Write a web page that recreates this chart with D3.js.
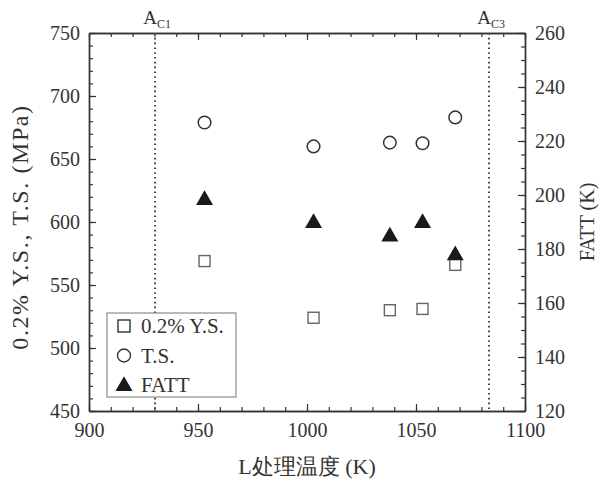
<!DOCTYPE html>
<html>
<head>
<meta charset="utf-8">
<script src="https://cdn.jsdelivr.net/npm/d3@7"></script>
<style>
  body { margin: 0; background: #fff; }
  svg { display: block; font-family: "Liberation Serif", "Times New Roman", serif; }
</style>
</head>
<body>
<svg id="chart"></svg>
<script>
// data
const temps = [953, 1003, 1038, 1053, 1068]
const yieldStrength = [569, 524, 530, 531, 566]
const tensileStrength = [679, 660, 663, 662.5, 683]
const fatt = [198.5, 190, 185, 190, 178]
const transitions = [{ label: 'A', sub: 'C1', value: 930.3 }, { label: 'A', sub: 'C3', value: 1083.5 }]
const legendItems = ['0.2% Y.S.', 'T.S.', 'FATT']
const xTicks = [900, 950, 1000, 1050, 1100]
const yLeftTicks = [450, 500, 550, 600, 650, 700, 750]
const yRightTicks = [120, 140, 160, 180, 200, 220, 240, 260]

const W = 601, H = 484
const margin = { top: 33, right: 76, bottom: 73, left: 89 }
const width = W - margin.left - margin.right,
	height = H - margin.top - margin.bottom

const ink = '#333'
const serif = '"Liberation Serif", "Times New Roman", serif'

const svg = d3.select('#chart').attr('width', W).attr('height', H)
const g = svg.append('g').attr('transform', `translate(${margin.left},${margin.top})`)

const x = d3.scaleLinear().domain([900, 1100]).range([0, width])
const yL = d3.scaleLinear().domain([450, 750]).range([height, 0])
const yR = d3.scaleLinear().domain([120, 260]).range([height, 0])

const fs = 20
const fmt = d3.format('d')

// minor ticks first (no labels), then major ones
function addAxis(axis, transform) {
	const a = g.append('g').attr('transform', transform).call(axis)
	a.attr('font-family', serif)
	a.select('.domain').attr('stroke', ink).attr('stroke-width', 1.4)
	a.selectAll('.tick line').attr('stroke', ink).attr('stroke-width', 1.2)
	a.selectAll('text').attr('fill', ink).style('font-size', fs + 'px').style('font-family', serif)
	return a
}

const xMinor = d3.range(900, 1101, 10)
const yLMinor = d3.range(450, 751, 10)
const yRMinor = d3.range(120, 261, 5)

addAxis(d3.axisBottom(x).tickValues(xMinor).tickSize(-4).tickSizeOuter(0).tickFormat(''), `translate(0,${height})`)
addAxis(d3.axisTop(x).tickValues(xMinor).tickSize(-4).tickSizeOuter(0).tickFormat(''), 'translate(0,0)')
addAxis(d3.axisLeft(yL).tickValues(yLMinor).tickSize(-4).tickSizeOuter(0).tickFormat(''), 'translate(0,0)')
addAxis(d3.axisRight(yR).tickValues(yRMinor).tickSize(-4).tickSizeOuter(0).tickFormat(''), `translate(${width},0)`)

addAxis(d3.axisBottom(x).tickValues(xTicks).tickFormat(fmt).tickSize(-7).tickSizeOuter(0).tickPadding(12), `translate(0,${height})`)
addAxis(d3.axisTop(x).tickValues(xTicks).tickSize(-7).tickSizeOuter(0).tickFormat(''), 'translate(0,0)')
addAxis(d3.axisLeft(yL).tickValues(yLeftTicks).tickFormat(fmt).tickSize(-7).tickSizeOuter(0).tickPadding(9), 'translate(0,0)')
addAxis(d3.axisRight(yR).tickValues(yRightTicks).tickFormat(fmt).tickSize(-7).tickSizeOuter(0).tickPadding(10), `translate(${width},0)`)

// transformation temperatures
transitions.forEach((t) => {
	g.append('line')
		.attr('x1', x(t.value)).attr('x2', x(t.value))
		.attr('y1', 0).attr('y2', height)
		.attr('stroke', '#444')
		.attr('stroke-width', 2)
		.attr('stroke-dasharray', '1.6,3.2')
	const lab = g.append('text')
		.attr('x', x(t.value) + 2)
		.attr('y', -9)
		.attr('text-anchor', 'middle')
		.attr('fill', ink)
		.style('font-size', '19px')
	lab.append('tspan').text(t.label)
	lab.append('tspan').attr('dy', 4).style('font-size', '12px').text(t.sub)
})

// markers
const sq = 11
g.selectAll('.ys').data(temps).join('rect')
	.attr('class', 'ys')
	.attr('x', (d) => x(d) - sq / 2)
	.attr('y', (d, i) => yL(yieldStrength[i]) - sq / 2)
	.attr('width', sq).attr('height', sq)
	.attr('fill', 'none').attr('stroke', '#666').attr('stroke-width', 1.4)

g.selectAll('.ts').data(temps).join('circle')
	.attr('class', 'ts')
	.attr('cx', (d) => x(d))
	.attr('cy', (d, i) => yL(tensileStrength[i]))
	.attr('r', 6.3)
	.attr('fill', 'none').attr('stroke', '#333').attr('stroke-width', 1.5)

const tri = d3.symbol().type(d3.symbolTriangle).size(125)
g.selectAll('.fatt').data(temps).join('path')
	.attr('class', 'fatt')
	.attr('transform', (d, i) => `translate(${x(d)},${yR(fatt[i]) + 1})`)
	.attr('d', tri)
	.attr('fill', '#1a1a1a')

// legend
const lg = svg.append('g').attr('transform', 'translate(107,313)')
lg.append('rect').attr('width', 129).attr('height', 84)
	.attr('fill', '#fff').attr('stroke', '#777').attr('stroke-width', 1)
legendItems.forEach((name, i) => {
	const cy = 13 + i * 29.5
	if (i === 0) {
		lg.append('rect').attr('x', 11).attr('y', cy - 6).attr('width', 12).attr('height', 12)
			.attr('fill', 'none').attr('stroke', '#333').attr('stroke-width', 1.4)
	} else if (i === 1) {
		lg.append('circle').attr('cx', 17).attr('cy', cy).attr('r', 6.5)
			.attr('fill', 'none').attr('stroke', '#333').attr('stroke-width', 1.4)
	} else {
		lg.append('path').attr('transform', `translate(17,${cy + 1})`).attr('d', tri).attr('fill', '#1a1a1a')
	}
	lg.append('text').attr('x', 34).attr('y', cy + 7)
		.attr('fill', ink).style('font-size', '21px').text(name)
})

// axis titles
svg.append('text')
	.attr('x', margin.left + width / 2).attr('y', 474)
	.attr('text-anchor', 'middle').attr('fill', ink)
	.style('font-size', '22px')
	.text('L处理温度 (K)')

svg.append('text')
	.attr('transform', `translate(28,227) rotate(-90)`)
	.attr('text-anchor', 'middle').attr('fill', ink)
	.style('font-size', '24px')
	.style('letter-spacing', '1.6px')
	.text('0.2% Y.S., T.S. (MPa)')

svg.append('text')
	.attr('transform', `translate(594,${margin.top + height / 2}) rotate(-90)`)
	.attr('text-anchor', 'middle').attr('fill', ink)
	.style('font-size', '20px')
	.text('FATT (K)')
</script>
</body>
</html>
